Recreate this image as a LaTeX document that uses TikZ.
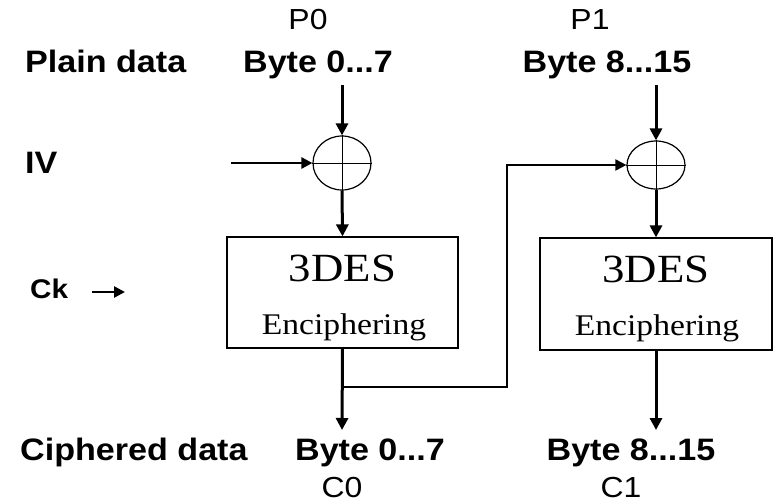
\documentclass[tikz,border=0pt]{standalone}
\usepackage{fontspec}
\usetikzlibrary{arrows.meta,shapes.geometric}
\newfontfamily\labfont[FakeStretch=1.1]{Liberation Sans}
\newfontfamily\boxfont[FakeStretch=1.12]{Liberation Serif}
\begin{document}
\begin{tikzpicture}[x=1pt,y=-1pt,
  lab/.style={font=\labfont\bfseries\fontsize{31}{34}\selectfont, inner sep=0, anchor=base},
  sub/.style={font=\labfont\fontsize{29}{31}\selectfont, inner sep=0, anchor=base},
  cklab/.style={font=\labfont\bfseries\fontsize{27}{29}\selectfont, inner sep=0, anchor=base west},
  bigtxt/.style={font=\boxfont\fontsize{40}{43}\selectfont, inner sep=0, anchor=base},
  smalltxt/.style={font=\boxfont\fontsize{30}{32}\selectfont, inner sep=0, anchor=base},
  encbox/.style={draw, line width=1.2pt, inner sep=0},
  xorn/.style={draw, ellipse, line width=1.2pt, inner sep=0},
  arr/.style={line width=3pt, -{Triangle[length=12pt,width=12pt]}},
  arrthin/.style={line width=2.6pt, -{Triangle[length=11pt,width=11pt]}},
  fb/.style={line width=2pt, -{Triangle[length=11pt,width=11pt]}}]
\useasboundingbox (0,0) rectangle (781,503);
\fill[white] (0,0) rectangle (781,503);

% labels
\node[sub] (p0) at (308,30) {P0};
\node[sub] (p1) at (590,30) {P1};
\node[lab, anchor=base west] (pd) at (25,73) {Plain data};
\node[lab] (b0) at (318,73) {Byte 0...7};
\node[lab] (b1) at (607,73) {Byte 8...15};
\node[lab, anchor=base west] (iv) at (25,173) {IV};
\node[cklab] (ck) at (30,298) {Ck};
\node[lab, anchor=base west] (cd) at (20,460) {Ciphered data};
\node[lab] (o0) at (370,460) {Byte 0...7};
\node[lab] (o1) at (631,460) {Byte 8...15};
\node[sub] (c0) at (342,497) {C0};
\node[sub] (c1) at (621,497) {C1};

% xor nodes
\node[xorn, minimum width=58, minimum height=54] (x1) at (342,163) {};
\draw[line width=1pt] (x1.north) -- (x1.south) (x1.west) -- (x1.east);
\node[xorn, minimum width=58, minimum height=48] (x2) at (656,165) {};
\draw[line width=1pt] (x2.north) -- (x2.south) (x2.west) -- (x2.east);

% encipher boxes
\node[encbox, minimum width=231, minimum height=111] (e1) at (342.5,292.5) {};
\node[bigtxt] (t1) at (342.5,281) {3DES};
\node[smalltxt] (u1) at (344,334) {Enciphering};
\node[encbox, minimum width=232, minimum height=112] (e2) at (656,294) {};
\node[bigtxt] (t2) at (656,282) {3DES};
\node[smalltxt] (u2) at (657,335) {Enciphering};

% coordinates
\coordinate (a0) at (342,85);
\coordinate (a1) at (656,85);
\coordinate (ivs) at (231,163);
\coordinate (cka) at (92,292);
\coordinate (ckb) at (125,292);
\coordinate (d0) at (342,430);
\coordinate (d1) at (656,430);
\coordinate (br) at (342,387);
\coordinate (up) at (507,165);

% connectors
\draw[arr] (a0) -- (x1.north);
\draw[arr] (a1) -- (x2.north);
\draw[arrthin] (ivs) -- (x1.west);
\draw[arrthin] (cka) -- (ckb);
\draw[arr] (x1.south) -- (e1.north);
\draw[arr] (x2.south) -- (e2.north);
\draw[arr] (e1.south) -- (d0);
\draw[arr] (e2.south) -- (d1);
\draw[fb] (br) -- (br -| up) -- (up) -- (x2.west);
\end{tikzpicture}
\end{document}
